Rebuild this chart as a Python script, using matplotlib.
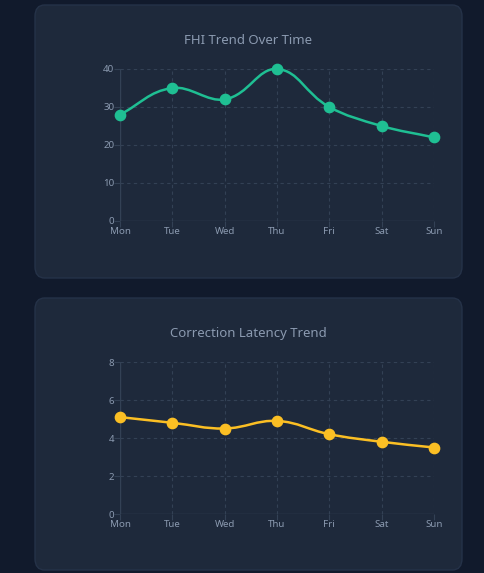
import matplotlib
matplotlib.use("Agg")
import matplotlib.pyplot as plt
from matplotlib.patches import FancyBboxPatch, PathPatch
from matplotlib.path import Path
import numpy as np

# данные графиков
days = ["Mon", "Tue", "Wed", "Thu", "Fri", "Sat", "Sun"]
fhi_values = [28, 35, 32, 40, 30, 25, 22]
latency_values = [5.1, 4.8, 4.5, 4.9, 4.2, 3.8, 3.5]

plt.rcParams['font.family'] = ['Noto Sans', 'DejaVu Sans']

bg = "#111a2c"
card = "#1e293b"
text_col = "#8b9ab0"
grid_col = "#334155"

fig = plt.figure(figsize=(4.84, 5.73), dpi=100)
fig.patch.set_facecolor(bg)

W, H = 484, 573

def add_card(y0, y1):
    p = FancyBboxPatch((35 / W, 1 - y1 / H), 427 / W, (y1 - y0) / H,
                       boxstyle="round,pad=0,rounding_size=0.02",
                       transform=fig.transFigure, facecolor=card,
                       edgecolor="#253248", linewidth=1, zorder=-5)
    fig.patches.append(p)

# сглаживание как в Chart.js (tension 0.4), считаем в долях осей
def smooth_path(ax, xs, ys, ymax, tension=0.4):
    pts = np.array([[x / (len(xs) - 1), y / ymax] for x, y in zip(xs, ys)])
    n = len(pts)
    verts = [pts[0]]
    codes = [Path.MOVETO]
    cps = []
    for i in range(n):
        p0 = pts[max(i - 1, 0)]
        p1 = pts[i]
        p2 = pts[min(i + 1, n - 1)]
        d01 = np.hypot(*(p1 - p0))
        d12 = np.hypot(*(p2 - p1))
        s = d01 + d12 if d01 + d12 > 0 else 1
        fa = tension * d01 / s
        fb = tension * d12 / s
        cps.append((p1 - fa * (p2 - p0), p1 + fb * (p2 - p0)))
    for i in range(1, n):
        verts += [cps[i - 1][1], cps[i][0], pts[i]]
        codes += [Path.CURVE4] * 3
    return PathPatch(Path(verts, codes), transform=ax.transAxes,
                     fill=False, linewidth=1.8, clip_on=False, zorder=4)

def make_chart(top_px, title, values, ymax, step, color):
    ax = fig.add_axes([120 / W, 1 - top_px / H, 314 / W, 152 / H])
    ax.set_facecolor("none")
    x = np.arange(len(days))
    patch = smooth_path(ax, x, values, ymax)
    patch.set_edgecolor(color)
    ax.add_patch(patch)
    ax.scatter(x, values, s=55, color=color, zorder=5, clip_on=False)
    ax.set_xlim(0, len(days) - 1)
    ax.set_ylim(0, ymax)
    ax.set_xticks(x)
    ax.set_xticklabels(days)
    ax.set_yticks(np.arange(0, ymax + step / 2, step))
    ax.grid(True, color=grid_col, linestyle=(0, (3, 3)), linewidth=0.8)
    for sp in ax.spines.values():
        sp.set_visible(False)
    ax.axhline(0, color=grid_col, linewidth=1)
    ax.axvline(0, color=grid_col, linewidth=1)
    ax.tick_params(colors=text_col, labelsize=7, length=4, width=0.8,
                   color=grid_col, pad=0)
    fig.text(248 / W, 1 - (top_px - 181) / H, title, ha="center", va="center",
             color=text_col, fontsize=9.5, fontweight="semibold")
    return ax

add_card(5, 278)
add_card(298, 570)
make_chart(221, "FHI Trend Over Time", fhi_values, 40, 10, "#1fbf93")
make_chart(514, "Correction Latency Trend", latency_values, 8, 2, "#fbbf24")

fig.savefig("out.png", dpi=100, facecolor=bg)
